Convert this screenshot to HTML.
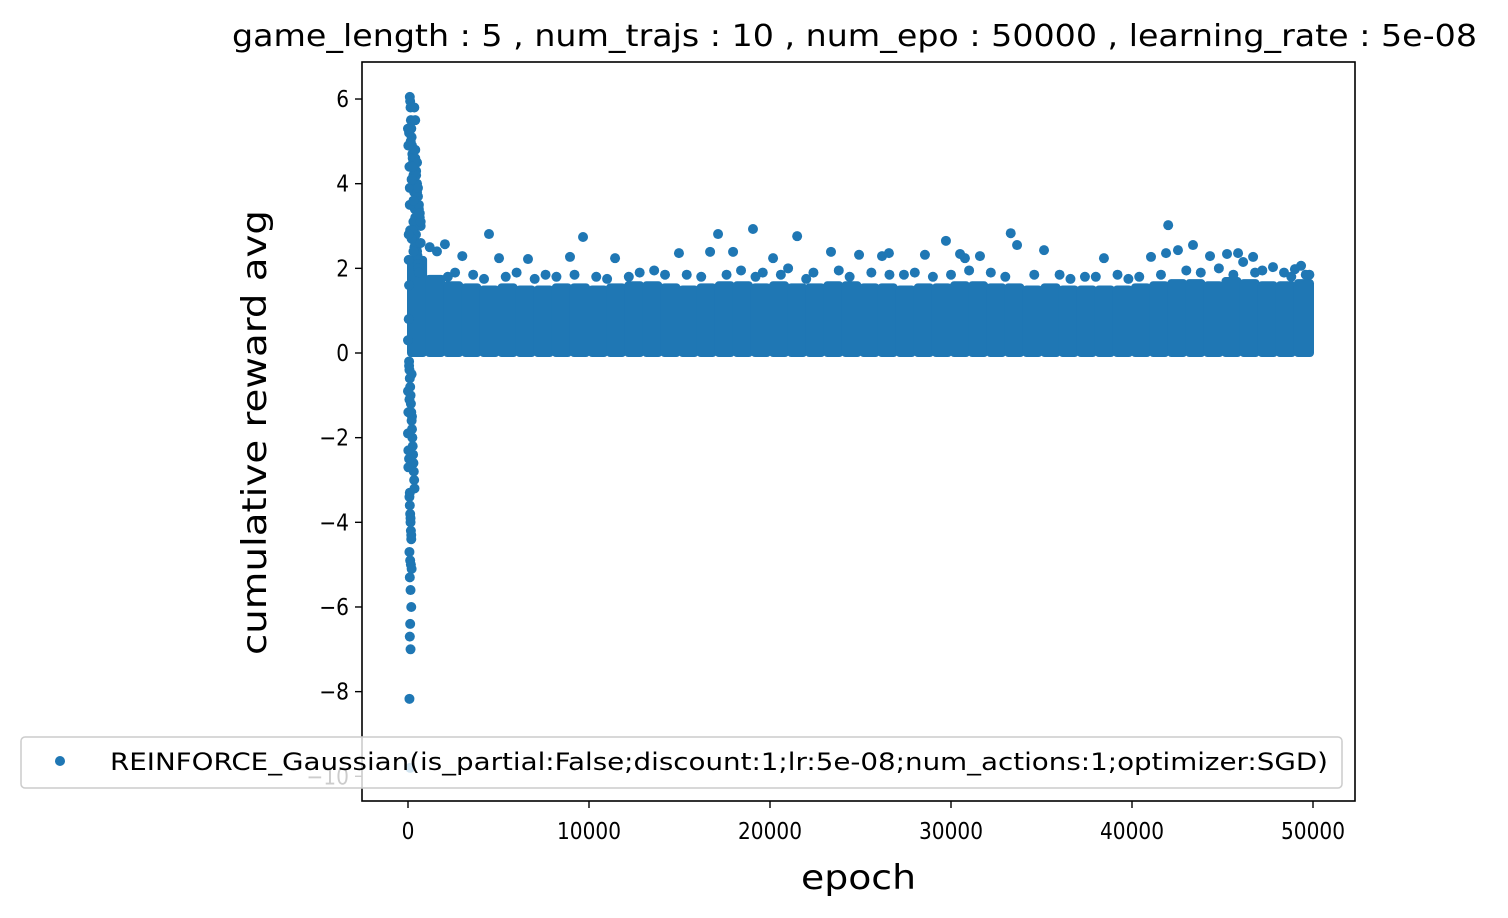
<!DOCTYPE html>
<html><head><meta charset="utf-8"><style>
html,body{margin:0;padding:0;background:#fff}
svg{display:block}
text{font-family:"DejaVu Sans","Liberation Sans",sans-serif}
</style></head><body>
<svg id="chart" width="1508" height="918" viewBox="0 0 1508 918" xmlns="http://www.w3.org/2000/svg" font-family="DejaVu Sans, Liberation Sans, sans-serif">
<rect x="0" y="0" width="1508" height="918" fill="#fff"/>
<text x="232" y="46" style="font-size:30px" textLength="1245" lengthAdjust="spacingAndGlyphs">game_length : 5 , num_trajs : 10 , num_epo : 50000 , learning_rate : 5e-08</text>
<g id="marks"></g>
<rect x="362" y="62" width="993" height="739" fill="none" stroke="#000" stroke-width="1.6"/>
<g id="xticks"></g>
<g id="yticks"></g>
<text x="801" y="889" style="font-size:34px" textLength="115" lengthAdjust="spacingAndGlyphs">epoch</text>
<text transform="translate(266,655) rotate(-90)" style="font-size:34px" textLength="445" lengthAdjust="spacingAndGlyphs">cumulative reward avg</text>
<g>
<rect x="21" y="737" width="1321" height="51" rx="4" fill="#fff" fill-opacity="0.8" stroke="#ccc" stroke-width="1.5"/>
<circle cx="60" cy="761" r="5" fill="#1f77b4"/>
<text x="110" y="770" style="font-size:24px" textLength="1218" lengthAdjust="spacingAndGlyphs">REINFORCE_Gaussian(is_partial:False;discount:1;lr:5e-08;num_actions:1;optimizer:SGD)</text>
</g>
</svg>
<script>
const xTicks = [0, 10000, 20000, 30000, 40000, 50000];
const yTicks = [-10, -8, -6, -4, -2, 0, 2, 4, 6];
// early spike points
const spikeEpochs = [100,120,140,160,180,200,220,240,260,280,300,320,340,360,380,400,420,440,460,480,500,520,540,560,580,600,
  60,80,100,120,140,160,180,200,220,240,260,280,300,320,340,360,
  80,100,120,140,160,180,200,220,60,100,140,180,80,120,160,200,100,140,180,120,100,140,80,120,100,80,60,100,120,
  300,350,400,450,500,550,600,650,700,300,400,500,600,700,250,350,450,550,650,200,300,400,500,200,300,400,150,250,350,
  0,20,40,60,80,0,20,40,60,0,20,40,0,20];
const spikeValues = [6.05,5.95,5.8,5.5,5.3,5.1,4.9,4.7,4.6,4.5,4.2,4.0,3.8,3.6,3.4,3.2,3.0,2.8,2.6,2.5,2.4,2.3,2.2,2.1,2.0,1.9,
  -0.2,-0.4,-0.6,-0.8,-1.0,-1.2,-1.4,-1.6,-1.8,-2.0,-2.2,-2.4,-2.6,-2.8,-3.0,-3.2,
  -3.4,-3.6,-3.8,-4.0,-4.2,-4.4,-0.5,-1.5,-2.5,-3.3,-3.9,-4.3,-4.7,-4.9,-5.0,-5.1,-5.3,-5.6,-6.0,-6.4,-6.7,-7.0,-8.17,-9.8,
  3.9,4.4,5.2,3.5,2.9,3.1,2.7,
  4.6,4.3,4.0,3.7,3.4,3.2,3.0,2.8,2.6,3.8,3.5,3.1,2.9,2.5,4.2,3.9,3.3,2.7,2.4,4.8,4.5,4.1,3.6,5.5,5.0,4.4,5.8,5.3,4.9,
  0.8,-0.3,-1.1,-1.9,-2.7,2.8,1.6,-0.9,-2.3,2.2,0.3,-1.4,1.2,-0.6];
// dense band: bin start epochs and top of dense region
const bandEpochs = [0,1000,2000,3000,4000,5000,6000,7000,8000,9000,10000,11000,12000,13000,14000,15000,16000,17000,18000,19000,20000,21000,22000,23000,24000,25000,26000,27000,28000,29000,30000,31000,32000,33000,34000,35000,36000,37000,38000,39000,40000,41000,42000,43000,44000,45000,46000,47000,48000,49000];
const bandTop = [2.2,1.75,1.6,1.55,1.5,1.55,1.5,1.5,1.55,1.55,1.5,1.55,1.6,1.6,1.55,1.5,1.55,1.6,1.6,1.55,1.6,1.55,1.55,1.6,1.6,1.55,1.55,1.5,1.55,1.55,1.6,1.6,1.55,1.55,1.5,1.55,1.5,1.5,1.5,1.5,1.55,1.6,1.65,1.65,1.6,1.7,1.65,1.6,1.6,1.65];
// outliers above band
const outlierEpochs = [4475,9670,17130,19060,21500,29720,33300,42000,33650,35140,41880,43370,42540,45250,45860,49340,2040,3000,5030,6630,8950,11440,14970,16690,17960,20170,23370,24920,26190,26570,28560,30770,30500,31600,38450,41050,44310,46690,47790,49000,46140,
  1200,2600,3600,6000,7600,10400,12800,13600,15400,18400,19600,21000,22400,23800,25600,27400,28000,31000,32200,34600,36000,37400,39200,40400,43000,44800,47200,48400,49800,1600,700,
  2200,4200,5400,7000,8200,9200,11000,12200,14200,16200,17600,19200,20600,22000,24400,26600,29000,30000,33000,36600,38000,39800,41600,43800,45600,46800,48800,49600];
const outlierValues = [2.81,2.74,2.81,2.93,2.76,2.65,2.83,3.02,2.55,2.43,2.36,2.55,2.43,2.34,2.36,2.06,2.57,2.29,2.24,2.22,2.27,2.24,2.36,2.39,2.39,2.24,2.39,2.32,2.29,2.36,2.32,2.24,2.34,2.29,2.24,2.27,2.29,2.27,2.03,1.98,2.15,
  2.5,1.9,1.85,1.9,1.85,1.8,1.9,1.95,1.85,1.95,1.9,2.0,1.9,1.95,1.9,1.85,1.9,1.95,1.9,1.85,1.85,1.8,1.85,1.8,1.95,2.0,1.95,1.9,1.85,2.4,2.6,
  1.8,1.75,1.8,1.75,1.8,1.85,1.75,1.8,1.85,1.8,1.85,1.8,1.85,1.75,1.8,1.85,1.8,1.85,1.8,1.75,1.8,1.75,1.85,1.9,1.85,1.9,1.8,1.85];

const X0=408, XPER=181/10000, Y0=353, YPER=42.33;
const xs = v => X0 + v*XPER;
const ys = v => Y0 - v*YPER;
const NS='http://www.w3.org/2000/svg';
const C='#1f77b4';
const marks=document.getElementById('marks');
function mk(tag, attrs, parent){const e=document.createElementNS(NS,tag);for(const k in attrs)e.setAttribute(k,attrs[k]);parent.appendChild(e);return e;}

bandEpochs.forEach((ep,i)=>{
  const r=mk('rect',{x:xs(ep)-1,y:ys(bandTop[i])-4,width:1000*XPER+2,height:ys(0)-ys(bandTop[i])+8,rx:4,fill:C},marks);
  
  
});
spikeEpochs.forEach((ep,i)=>{
  const c=mk('circle',{cx:xs(ep),cy:ys(spikeValues[i]),r:5,fill:C},marks);
  
  
});
outlierEpochs.forEach((ep,i)=>{
  const c=mk('circle',{cx:xs(ep),cy:ys(outlierValues[i]),r:5,fill:C},marks);
  
  
});

const xg=document.getElementById('xticks');
xTicks.forEach(t=>{
  const l=mk('line',{x1:xs(t),x2:xs(t),y1:801,y2:808,stroke:'#000','stroke-width':1.4},xg);
  
  
  const s=String(t);
  const tx=mk('text',{x:xs(t),y:839,'text-anchor':'middle',style:'font-size:23px',textLength:s.length*12.8,lengthAdjust:'spacingAndGlyphs'},xg);
  tx.textContent=s;
  
  
});
const yg=document.getElementById('yticks');
yTicks.forEach(t=>{
  const l=mk('line',{x1:355,x2:362,y1:ys(t),y2:ys(t),stroke:'#000','stroke-width':1.4},yg);
  
  
  const s=(t<0?'\u2212'+(-t):String(t));
  const w=(t<0?17:0)+String(Math.abs(t)).length*12.8;
  const tx=mk('text',{x:349,y:ys(t)+8,'text-anchor':'end',style:'font-size:23px',textLength:w,lengthAdjust:'spacingAndGlyphs'},yg);
  tx.textContent=s;
  
  
});
</script>
</body></html>
